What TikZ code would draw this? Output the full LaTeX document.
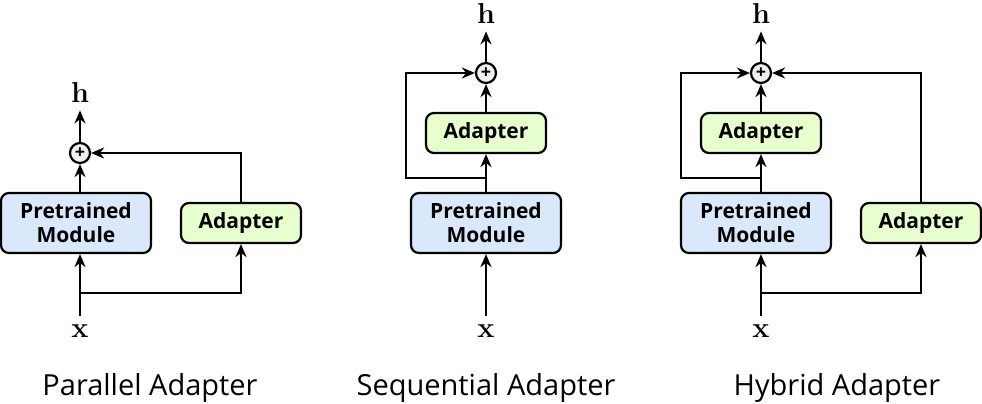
\documentclass[tikz,border=0pt]{standalone}
\usepackage[no-math]{fontspec}
\setmainfont{Open Sans}
\usetikzlibrary{arrows.meta}

\definecolor{modblue}{HTML}{DAE8FC}
\definecolor{adgreen}{HTML}{E6FFCC}

\tikzset{
  module/.style = {draw, rounded corners=4pt, fill=modblue, line width=1.1pt,
    minimum width=75pt, minimum height=30pt, inner sep=0pt, align=center,
    font=\bfseries\fontsize{10.5}{12}\selectfont},
  adapter/.style = {module, fill=adgreen, minimum width=60pt, minimum height=20pt},
  addnode/.style = {draw, circle, fill=gray!12, line width=1.1pt,
    minimum size=10pt, inner sep=0pt, font=\bfseries\fontsize{9}{9}\selectfont},
  vec/.style = {anchor=base, inner sep=4pt, font=\fontsize{14.5}{16}\selectfont},
  caption/.style = {anchor=base, font=\fontsize{14.5}{16}\selectfont},
  arr/.style = {line width=1.1pt, -{Stealth[length=6.5pt,width=5.5pt]}},
}

\begin{document}
\begin{tikzpicture}[x=0.5pt,y=-0.5pt]
  \useasboundingbox (0,0) rectangle (982,403);

  % parallel
  \begin{scope}
    \node[module] (pm1) at (76,223) {Pretrained\\Module};
    \node[adapter] (ad1) at (241,223) {Adapter};
    \node[addnode] (plus1) at (80,153) {+};
    \node[vec] (h1) at (80,102) {$\mathbf{h}$};
    \node[vec] (x1) at (80,337) {$\mathbf{x}$};
    \coordinate (br1) at (80,293);
    \draw[arr] (x1.north) -- (x1 |- pm1.south);
    \draw[arr] (br1) -| (ad1.south);
    \draw[arr] (plus1 |- pm1.north) -- (plus1.south);
    \draw[arr] (ad1.north) |- (plus1.east);
    \draw[arr] (plus1.north) -- (h1.south);
    \node[caption] (cap1) at (150,395) {Parallel Adapter};
  \end{scope}

  % sequential
  \begin{scope}
    \node[addnode] (plus2) at (486,73) {+};
    \node[adapter] (ad2) at (486,133) {Adapter};
    \node[module] (pm2) at (486,223) {Pretrained\\Module};
    \node[vec] (h2) at (486,23) {$\mathbf{h}$};
    \node[vec] (x2) at (486,337) {$\mathbf{x}$};
    \coordinate (sk2) at (486,178);
    \draw[arr] (x2.north) -- (pm2.south);
    \draw[arr] (pm2.north) -- (ad2.south);
    \draw[arr] (ad2.north) -- (plus2.south);
    \draw[arr] (plus2.north) -- (h2.south);
    \draw[arr] (sk2) -- ++(-80,0) |- (plus2.west);
    \node[caption] (cap2) at (486,395) {Sequential Adapter};
  \end{scope}

  % hybrid
  \begin{scope}
    \node[addnode] (plus3) at (761,73) {+};
    \node[adapter] (ad3) at (761,133) {Adapter};
    \node[module] (pm3) at (756,223) {Pretrained\\Module};
    \node[adapter] (ad4) at (921,223) {Adapter};
    \node[vec] (h3) at (761,23) {$\mathbf{h}$};
    \node[vec] (x3) at (761,337) {$\mathbf{x}$};
    \coordinate (sk3) at (761,178);
    \coordinate (br3) at (761,293);
    \draw[arr] (x3.north) -- (x3 |- pm3.south);
    \draw[arr] (plus3 |- pm3.north) -- (ad3.south);
    \draw[arr] (ad3.north) -- (plus3.south);
    \draw[arr] (plus3.north) -- (h3.south);
    \draw[arr] (sk3) -- ++(-80,0) |- (plus3.west);
    \draw[arr] (br3) -| (ad4.south);
    \draw[arr] (ad4.north) |- (plus3.east);
    \node[caption] (cap3) at (837,395) {Hybrid Adapter};
  \end{scope}
\end{tikzpicture}
\end{document}
